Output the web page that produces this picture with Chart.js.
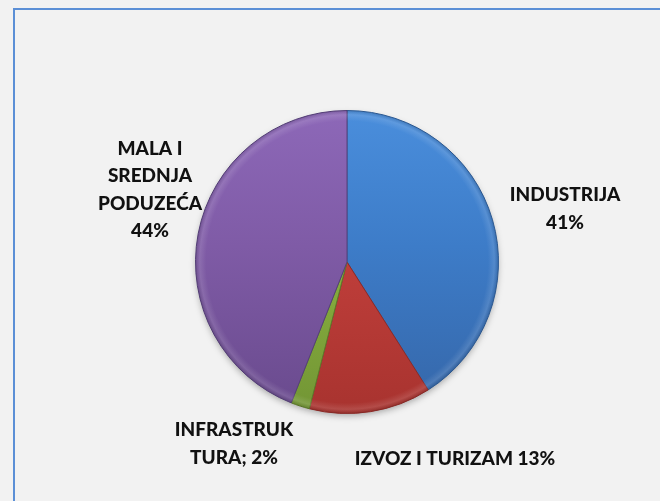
<!DOCTYPE html>
<html>
<head>
<meta charset="utf-8">
<script src="https://cdn.jsdelivr.net/npm/chart.js@4.4.1/dist/chart.umd.min.js"></script>
<style>
    body { margin: 0; background: #f2f2f2; }
    #wrap { position: relative; width: 660px; height: 501px; overflow: hidden; }
    #frame { position: absolute; left: 13px; top: 8px; width: 900px; height: 900px; border: 2px solid #5b8fd6; box-sizing: border-box; }
    canvas { position: absolute; left: 0; top: 0; }
</style>
</head>
<body>
<div id="wrap">
    <div id="frame"></div>
    <canvas id="chart" width="660" height="501"></canvas>
</div>
<script>
const categories = ['INDUSTRIJA', 'IZVOZ I TURIZAM', 'INFRASTRUKTURA', 'MALA I SREDNJA PODUZEĆA'];
const values = [41, 13, 2, 44];
// label text as it is wrapped in the picture
const labelLines = [
    ['INDUSTRIJA', '41%'],
    ['IZVOZ I TURIZAM 13%'],
    ['INFRASTRUK', 'TURA; 2%'],
    ['MALA I', 'SREDNJA', 'PODUZEĆA', '44%'],
];

// layout: label centre offsets from the pie centre, in pixels
const labelOffsets = [[218, -53], [108, 197], [-113, 182], [-197, -72]];
// top, middle, bottom shades for each slice
const sliceShades = [
    ['#4a8edc', '#3d7cc8', '#3566a8'],
    ['#d9514c', '#c13f3b', '#a8332f'],
    ['#9fc555', '#8ab13f', '#729535'],
    ['#8d68b8', '#7f5ba6', '#694a8d'],
];
const sliceBorders = ['#2f5d97', '#8e2a27', '#5d7a2a', '#56407a'];

function sliceFill(ctx) {
    const chart = ctx.chart;
    const area = chart.chartArea;
    if (!area) return sliceShades[ctx.dataIndex][1];
    const s = sliceShades[ctx.dataIndex];
    const g = chart.ctx.createLinearGradient(0, area.top, 0, area.bottom);
    g.addColorStop(0, s[0]);
    g.addColorStop(0.45, s[1]);
    g.addColorStop(1, s[2]);
    return g;
}

const pieShadow = {
    id: 'pieShadow',
    beforeDatasetsDraw(chart) {
        const arc = chart.getDatasetMeta(0).data[0];
        if (!arc) return;
        const ctx = chart.ctx;
        ctx.save();
        ctx.shadowColor = 'rgba(0,0,0,0.35)';
        ctx.shadowBlur = 7;
        ctx.shadowOffsetY = 3;
        ctx.fillStyle = '#888';
        ctx.beginPath();
        ctx.arc(arc.x, arc.y, arc.outerRadius - 1, 0, Math.PI * 2);
        ctx.fill();
        ctx.restore();
    },
    afterDatasetsDraw(chart) {
        // soft bevel along the rim
        const arc = chart.getDatasetMeta(0).data[0];
        if (!arc) return;
        const ctx = chart.ctx;
        const r = arc.outerRadius;
        const g = ctx.createRadialGradient(arc.x, arc.y, r * 0.93, arc.x, arc.y, r);
        g.addColorStop(0, 'rgba(255,255,255,0)');
        g.addColorStop(0.6, 'rgba(255,255,255,0.12)');
        g.addColorStop(1, 'rgba(0,0,0,0.12)');
        ctx.save();
        ctx.fillStyle = g;
        ctx.beginPath();
        ctx.arc(arc.x, arc.y, r, 0, Math.PI * 2);
        ctx.fill();
        ctx.restore();
    }
};

const outsideLabels = {
    id: 'outsideLabels',
    afterDraw(chart) {
        const meta = chart.getDatasetMeta(0);
        const ctx = chart.ctx;
        ctx.save();
        ctx.font = '900 19px Lato';
        ctx.fillStyle = '#111111';
        ctx.textAlign = 'center';
        ctx.textBaseline = 'middle';
        meta.data.forEach((arc, i) => {
            const lines = labelLines[i];
            const lh = 27.5;
            const cx = arc.x + labelOffsets[i][0];
            const cy = arc.y + labelOffsets[i][1] - (lines.length - 1) * lh / 2;
            lines.forEach((t, k) => ctx.fillText(t, cx, cy + k * lh));
        });
        ctx.restore();
    }
};

new Chart(document.getElementById('chart'), {
    type: 'pie',
    data: {
        labels: categories,
        datasets: [{
            data: values,
            backgroundColor: sliceFill,
            borderColor: sliceBorders,
            borderWidth: 1,
        }]
    },
    options: {
        responsive: false,
        animation: false,
        layout: { padding: { left: 150, right: 116, top: 110, bottom: 87 } },
        plugins: {
            legend: { display: false },
            tooltip: { enabled: false },
        }
    },
    plugins: [pieShadow, outsideLabels]
});
</script>
</body>
</html>
